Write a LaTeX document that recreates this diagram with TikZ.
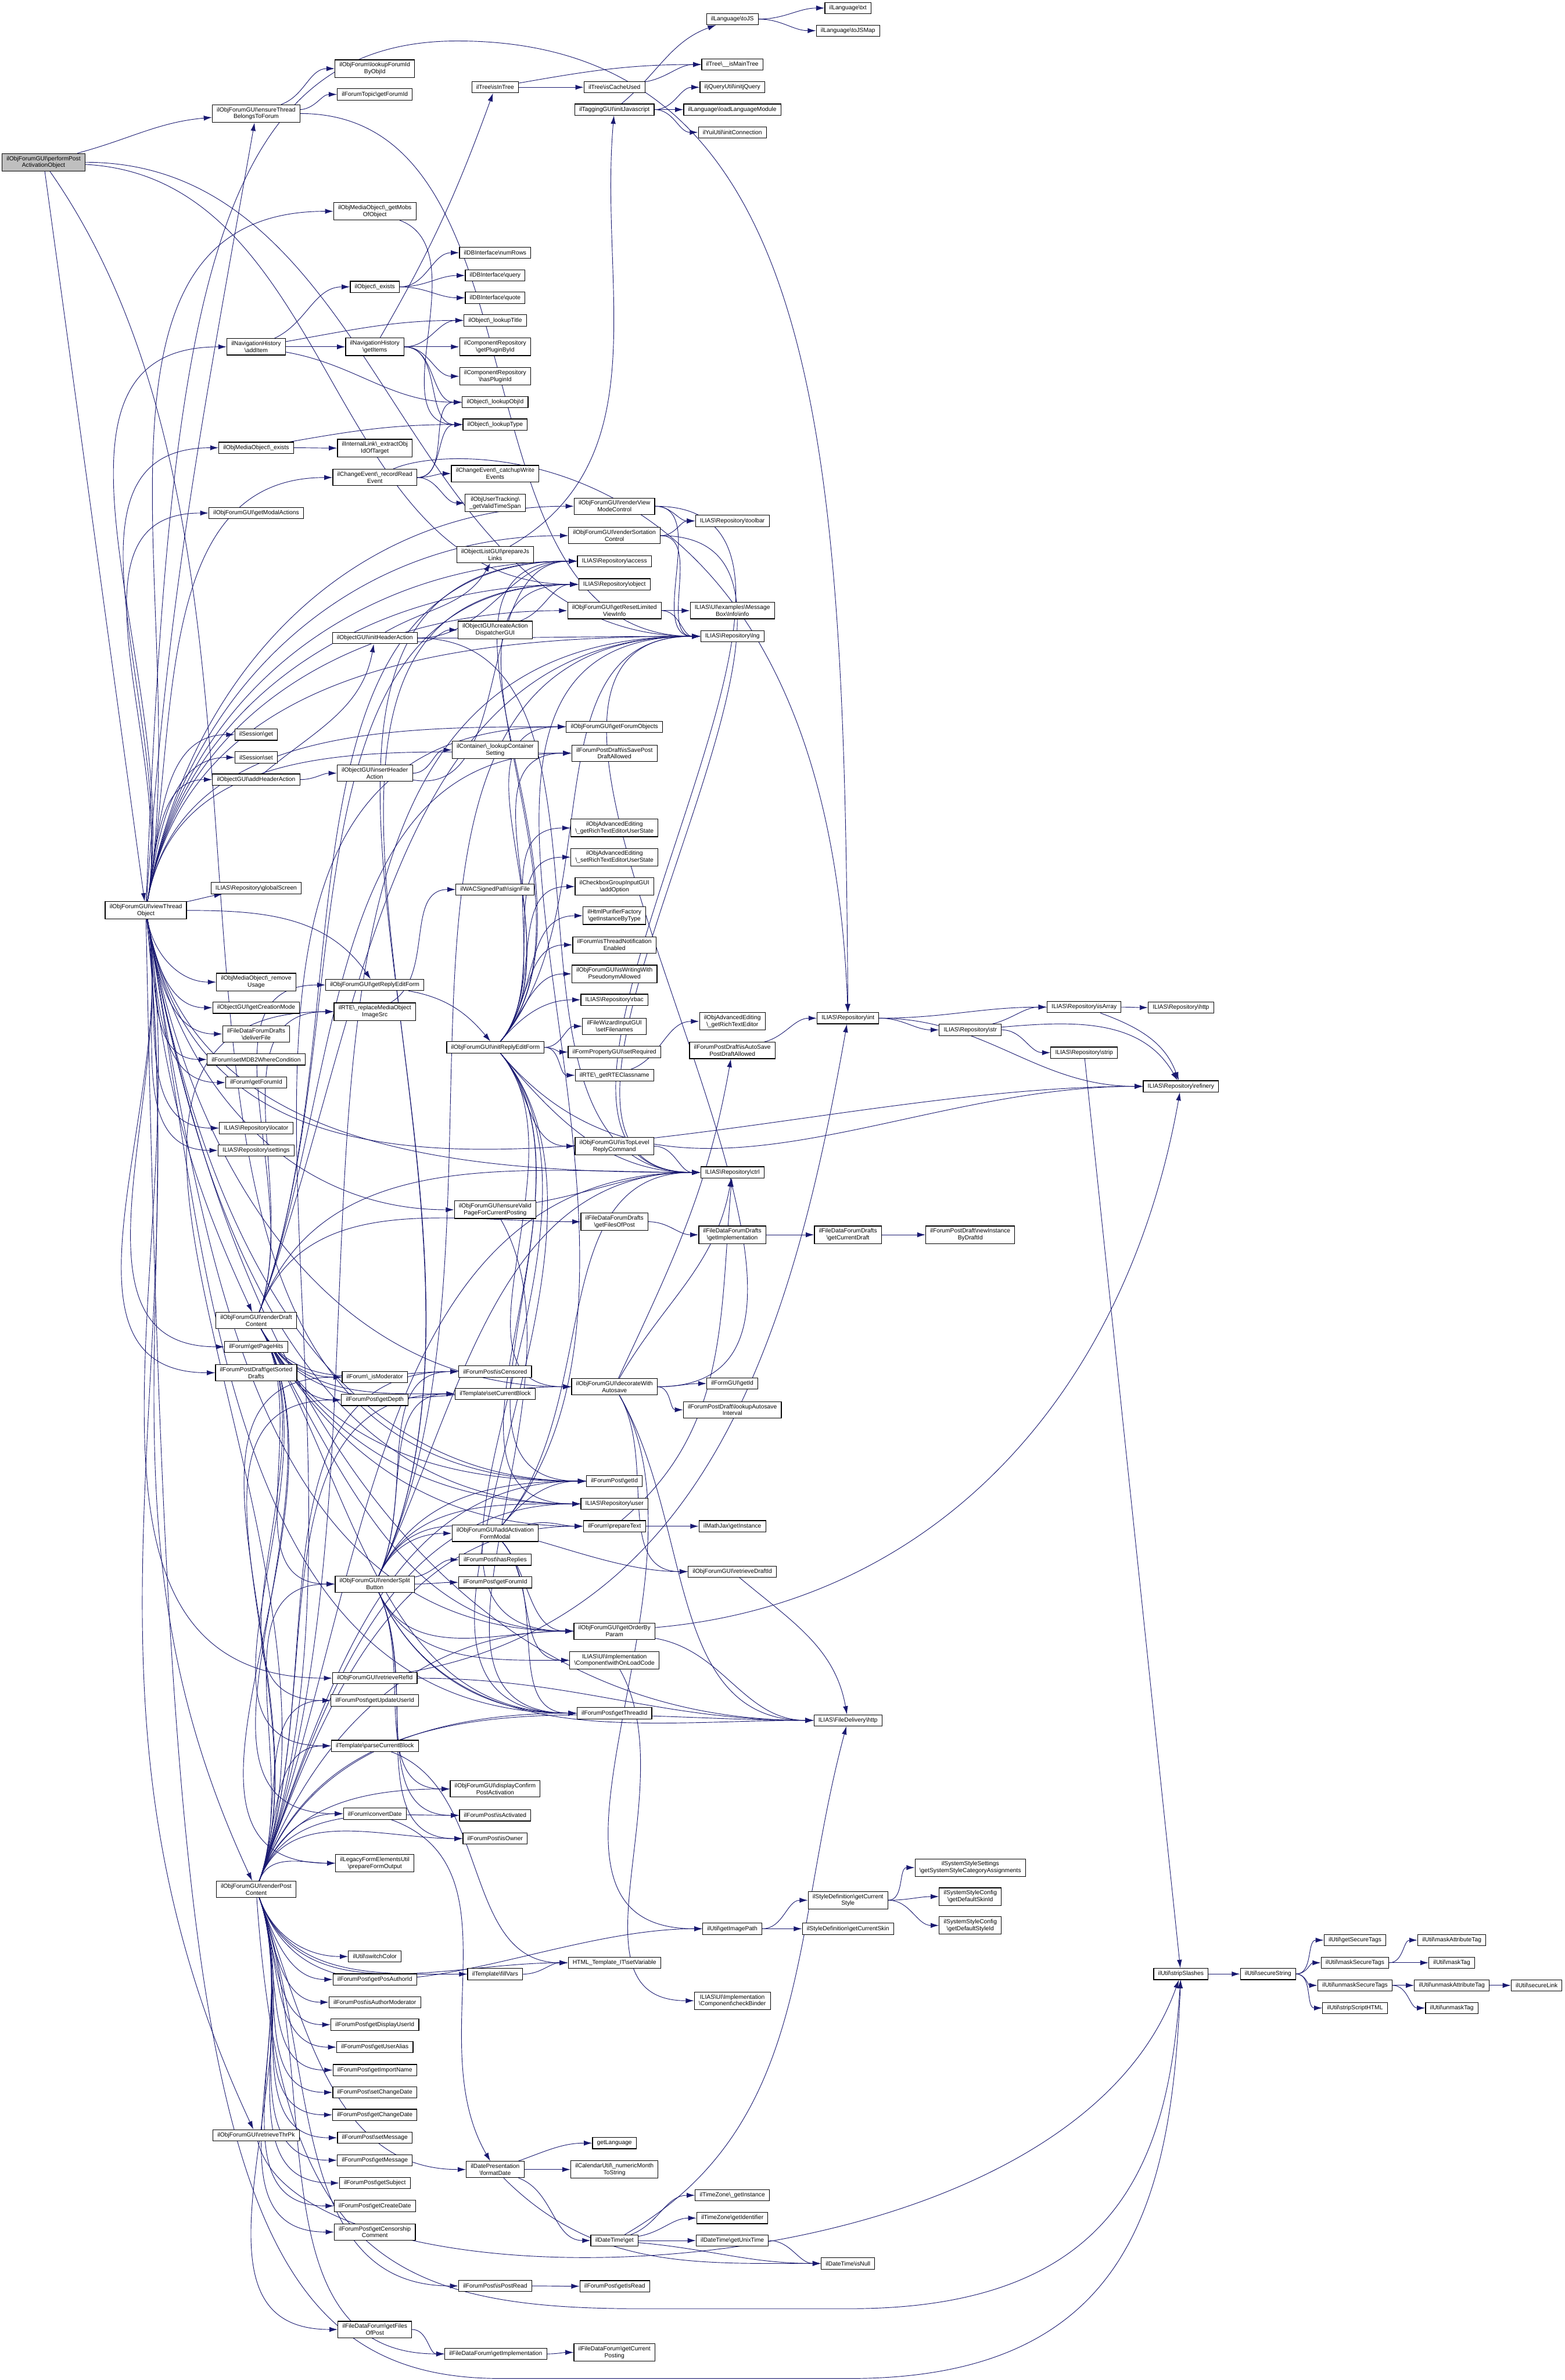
\documentclass[tikz,border=0pt]{standalone}
\usepackage{fontspec}
\setmainfont{Liberation Sans}
\usepackage{tikz}
\usetikzlibrary{arrows.meta,backgrounds}
\definecolor{edgeblue}{RGB}{25,25,112}
\newcommand{\bsl}{\textbackslash}
\tikzset{
  fn/.style={draw=black, fill=white, line width=0.25pt, align=center,
    font=\fontsize{2.24}{2.56}\selectfont, inner xsep=1.68pt, inner ysep=0.96pt,
    minimum height=1.48mm},
  fnroot/.style={fn, fill=black!25},
  call/.style={-{Latex[length=3.1pt,width=1.9pt]}, draw=edgeblue, line width=0.2pt,
    out=0, in=180}
}

\begin{document}
\begin{tikzpicture}[x=0.02cm, y=-0.02cm]
\useasboundingbox (0,0) rectangle (1031,1568);

\node[fnroot] (root) at (28.7,106.9) {ilObjForumGUI\bsl performPost\\ActivationObject};
\node[fn] (viewThread) at (96.1,599.8) {ilObjForumGUI\bsl viewThread\\Object};

\node[fn] (ensureThread) at (168.8,74.8) {ilObjForumGUI\bsl ensureThread\\BelongsToForum};
\node[fn] (addItem) at (168.8,228.5) {ilNavigationHistory\\\bsl addItem};
\node[fn] (mobExists) at (168.8,295) {ilObjMediaObject\bsl\_exists};
\node[fn] (modalActions) at (168.8,338) {ilObjForumGUI\bsl getModalActions};
\node[fn] (sessGet) at (168.8,484) {ilSession\bsl get};
\node[fn] (sessSet) at (168.8,499) {ilSession\bsl set};
\node[fn] (addHeader) at (168.8,513.6) {ilObjectGUI\bsl addHeaderAction};
\node[fn] (globalScreen) at (168.8,585.1) {ILIAS\bsl Repository\bsl globalScreen};
\node[fn] (removeUsage) at (168.8,647) {ilObjMediaObject\bsl\_remove\\Usage};
\node[fn] (creationMode) at (168.8,663.9) {ilObjectGUI\bsl getCreationMode};
\node[fn] (deliverFile) at (168.8,681.2) {ilFileDataForumDrafts\\\bsl deliverFile};
\node[fn] (setMDB2) at (168.8,698) {ilForum\bsl setMDB2WhereCondition};
\node[fn] (forumId) at (168.8,713.2) {ilForum\bsl getForumId};
\node[fn] (locator) at (168.8,743.2) {ILIAS\bsl Repository\bsl locator};
\node[fn] (settings) at (168.8,757.9) {ILIAS\bsl Repository\bsl settings};
\node[fn] (renderDraft) at (168.8,870) {ilObjForumGUI\bsl renderDraft\\Content};
\node[fn] (pageHits) at (168.8,887.3) {ilForum\bsl getPageHits};
\node[fn] (sortedDrafts) at (168.8,904.4) {ilForumPostDraft\bsl getSorted\\Drafts};
\node[fn] (renderPost) at (168.8,1244.7) {ilObjForumGUI\bsl renderPost\\Content};
\node[fn] (retrieveThrPk) at (168.8,1406.8) {ilObjForumGUI\bsl retrieveThrPk};

\node[fn] (lookupForumId) at (247,45.2) {ilObjForum\bsl lookupForumId\\ByObjId};
\node[fn] (topicForumId) at (247,62.2) {ilForumTopic\bsl getForumId};
\node[fn] (getMobs) at (247,139.2) {ilObjMediaObject\bsl\_getMobs\\OfObject};
\node[fn] (objExists) at (247,189) {ilObject\bsl\_exists};
\node[fn] (getItems) at (247,228.5) {ilNavigationHistory\\\bsl getItems};
\node[fn] (extractObjId) at (247,295.2) {ilInternalLink\bsl\_extractObj\\IdOfTarget};
\node[fn] (recordRead) at (247,314.6) {ilChangeEvent\bsl\_recordRead\\Event};
\node[fn] (initHeader) at (247,420.4) {ilObjectGUI\bsl initHeaderAction};
\node[fn] (insertHeader) at (247,509.4) {ilObjectGUI\bsl insertHeader\\Action};
\node[fn] (getReplyForm) at (247,648.9) {ilObjForumGUI\bsl getReplyEditForm};
\node[fn] (replaceMob) at (247,666.5) {ilRTE\bsl\_replaceMediaObject\\ImageSrc};
\node[fn] (isModerator) at (247,907.3) {ilForum\bsl\_isModerator};
\node[fn] (getDepth) at (247,922.3) {ilForumPost\bsl getDepth};
\node[fn] (splitButton) at (247,1043.6) {ilObjForumGUI\bsl renderSplit\\Button};
\node[fn] (retrieveRefId) at (247,1105.6) {ilObjForumGUI\bsl retrieveRefId};
\node[fn] (updateUserId) at (247,1120.3) {ilForumPost\bsl getUpdateUserId};
\node[fn] (parseBlock) at (247,1150.2) {ilTemplate\bsl parseCurrentBlock};
\node[fn] (convertDate) at (247,1194.9) {ilForum\bsl convertDate};
\node[fn] (prepareOutput) at (247,1227.5) {ilLegacyFormElementsUtil\\\bsl prepareFormOutput};
\node[fn] (switchColor) at (247,1289) {ilUtil\bsl switchColor};
\foreach \n/\t/\y in {posAuthorId/getPosAuthorId/1304.1, isAuthorMod/isAuthorModerator/1319.1,
    displayUserId/getDisplayUserId/1333.9, userAlias/getUserAlias/1348.7,
    importName/getImportName/1363.8, setChangeDate/setChangeDate/1378.5,
    getChangeDate/getChangeDate/1393.3, setMessage/setMessage/1408.4,
    getMessage/getMessage/1423.2, getSubject/getSubject/1438.2,
    getCreateDate/getCreateDate/1453.3}
  \node[fn] (\n) at (247,\y) {ilForumPost\bsl \t};
\node[fn] (censorComment) at (247,1470.5) {ilForumPost\bsl getCensorship\\Comment};
\node[fn] (forumFiles) at (247,1534.7) {ilFileDataForum\bsl getFiles\\OfPost};

\node[fn] (isInTree) at (326.3,57.5) {ilTree\bsl isInTree};
\node[fn] (numRows) at (326.3,166.5) {ilDBInterface\bsl numRows};
\node[fn] (dbQuery) at (326.3,181.5) {ilDBInterface\bsl query};
\node[fn] (dbQuote) at (326.3,196.2) {ilDBInterface\bsl quote};
\node[fn] (lookupTitle) at (326.3,211.1) {ilObject\bsl\_lookupTitle};
\node[fn] (getPluginById) at (326.3,228.5) {ilComponentRepository\\\bsl getPluginById};
\node[fn] (hasPluginId) at (326.3,247.9) {ilComponentRepository\\\bsl hasPluginId};
\node[fn] (lookupObjId) at (326.3,265) {ilObject\bsl\_lookupObjId};
\node[fn] (lookupType) at (326.3,279.7) {ilObject\bsl\_lookupType};
\node[fn] (catchupWrite) at (326.3,312) {ilChangeEvent\bsl\_catchupWrite\\Events};
\node[fn] (validTimeSpan) at (326.3,331.4) {ilObjUserTracking\bsl\\\_getValidTimeSpan};
\node[fn] (prepareJs) at (326.3,365.5) {ilObjectListGUI\bsl prepareJs\\Links};
\node[fn] (actionDispatcher) at (326.3,415) {ilObjectGUI\bsl createAction\\DispatcherGUI};
\node[fn] (containerSetting) at (326.3,494.1) {ilContainer\bsl\_lookupContainer\\Setting};
\node[fn] (signFile) at (326.3,586) {ilWACSignedPath\bsl signFile};
\node[fn] (initReplyForm) at (326.5,690) {ilObjForumGUI\bsl initReplyEditForm};
\node[fn] (ensureValidPage) at (326.3,797) {ilObjForumGUI\bsl ensureValid\\PageForCurrentPosting};
\node[fn] (isCensored) at (326.3,903.6) {ilForumPost\bsl isCensored};
\node[fn] (setBlock) at (326.3,918.3) {ilTemplate\bsl setCurrentBlock};
\node[fn] (activationModal) at (326.3,1010.2) {ilObjForumGUI\bsl addActivation\\FormModal};
\node[fn] (hasReplies) at (326.3,1027.6) {ilForumPost\bsl hasReplies};
\node[fn] (postForumId) at (326.3,1042.5) {ilForumPost\bsl getForumId};
\node[fn] (displayConfirm) at (326.3,1178.6) {ilObjForumGUI\bsl displayConfirm\\PostActivation};
\node[fn] (isActivated) at (326.3,1196) {ilForumPost\bsl isActivated};
\node[fn] (isOwner) at (326.3,1211.3) {ilForumPost\bsl isOwner};
\node[fn] (fillVars) at (326.3,1300.6) {ilTemplate\bsl fillVars};
\node[fn] (formatDate) at (326.3,1429.3) {ilDatePresentation\\\bsl formatDate};
\node[fn] (isPostRead) at (326.3,1506) {ilForumPost\bsl isPostRead};
\node[fn] (forumImpl) at (326.7,1550.8) {ilFileDataForum\bsl getImplementation};

\node[fn] (isCacheUsed) at (404.9,57.5) {ilTree\bsl isCacheUsed};
\node[fn] (initJs) at (404.9,72.2) {ilTaggingGUI\bsl initJavascript};
\node[fn] (viewModeCtrl) at (404.9,333.5) {ilObjForumGUI\bsl renderView\\ModeControl};
\node[fn] (sortationCtrl) at (404.9,352.9) {ilObjForumGUI\bsl renderSortation\\Control};
\node[fn] (access) at (404.9,369.7) {ILIAS\bsl Repository\bsl access};
\node[fn] (object) at (404.9,385) {ILIAS\bsl Repository\bsl object};
\node[fn] (resetInfo) at (404.9,402.3) {ilObjForumGUI\bsl getResetLimited\\ViewInfo};
\node[fn] (forumObjects) at (404.9,478.8) {ilObjForumGUI\bsl getForumObjects};
\node[fn] (isSaveDraft) at (404.9,496.2) {ilForumPostDraft\bsl isSavePost\\DraftAllowed};
\node[fn] (getRteState) at (404.9,545.5) {ilObjAdvancedEditing\\\bsl\_getRichTextEditorUserState};
\node[fn] (setRteState) at (404.9,564.7) {ilObjAdvancedEditing\\\bsl\_setRichTextEditorUserState};
\node[fn] (addOption) at (404.9,584.1) {ilCheckboxGroupInputGUI\\\bsl addOption};
\node[fn] (purifier) at (404.9,603.3) {ilHtmlPurifierFactory\\\bsl getInstanceByType};
\node[fn] (threadNotif) at (404.9,622.5) {ilForum\bsl isThreadNotification\\Enabled};
\node[fn] (pseudonym) at (404.9,641.6) {ilObjForumGUI\bsl isWritingWith\\PseudonymAllowed};
\node[fn] (rbac) at (404.9,658.7) {ILIAS\bsl Repository\bsl rbac};
\node[fn] (setFilenames) at (404.9,676.1) {ilFileWizardInputGUI\\\bsl setFilenames};
\node[fn] (setRequired) at (404.9,693.1) {ilFormPropertyGUI\bsl setRequired};
\node[fn] (rteClassname) at (404.9,708.4) {ilRTE\bsl\_getRTEClassname};
\node[fn] (topLevelReply) at (404.9,755.1) {ilObjForumGUI\bsl isTopLevel\\ReplyCommand};
\node[fn] (draftFiles) at (404.9,804.9) {ilFileDataForumDrafts\\\bsl getFilesOfPost};
\node[fn] (decorate) at (404.9,913.6) {ilObjForumGUI\bsl decorateWith\\Autosave};
\node[fn] (postGetId) at (404.9,975.8) {ilForumPost\bsl getId};
\node[fn] (user) at (404.9,990.8) {ILIAS\bsl Repository\bsl user};
\node[fn] (prepareText) at (404.9,1005.5) {ilForum\bsl prepareText};
\node[fn] (orderBy) at (404.9,1074.6) {ilObjForumGUI\bsl getOrderBy\\Param};
\node[fn] (onLoadCode) at (404.9,1093.8) {ILIAS\bsl UI\bsl Implementation\\\bsl Component\bsl withOnLoadCode};
\node[fn] (threadId) at (404.9,1128.7) {ilForumPost\bsl getThreadId};
\node[fn] (setVariable) at (404.9,1293.1) {HTML\_Template\_IT\bsl setVariable};
\node[fn] (getLanguage) at (404.9,1411.9) {getLanguage};
\node[fn] (monthToString) at (404.9,1429.3) {ilCalendarUtil\bsl\_numericMonth\\ToString};
\node[fn] (dateGet) at (404.9,1476.1) {ilDateTime\bsl get};
\node[fn] (getIsRead) at (405.1,1506.2) {ilForumPost\bsl getIsRead};
\node[fn] (currentPosting) at (404.9,1549.8) {ilFileDataForum\bsl getCurrent\\Posting};

\node[fn] (toJS) at (482.6,12.6) {ilLanguage\bsl toJS};
\node[fn] (isMainTree) at (482.6,42.5) {ilTree\bsl\_\_isMainTree};
\node[fn] (initjQuery) at (482.6,57.5) {iljQueryUtil\bsl initjQuery};
\node[fn] (loadLangModule) at (482.6,72.2) {ilLanguage\bsl loadLanguageModule};
\node[fn] (initConnection) at (482.6,87.2) {ilYuiUtil\bsl initConnection};
\node[fn] (toolbar) at (482.6,343.2) {ILIAS\bsl Repository\bsl toolbar};
\node[fn] (msgInfo) at (482.6,402.3) {ILIAS\bsl UI\bsl examples\bsl Message\\Box\bsl Info\bsl info};
\node[fn] (lng) at (482.6,419.2) {ILIAS\bsl Repository\bsl lng};
\node[fn] (getRte) at (482.6,672.9) {ilObjAdvancedEditing\\\bsl\_getRichTextEditor};
\node[fn] (isAutoSave) at (482.6,692.1) {ilForumPostDraft\bsl isAutoSave\\PostDraftAllowed};
\node[fn] (ctrl) at (482.6,772.4) {ILIAS\bsl Repository\bsl ctrl};
\node[fn] (draftImpl) at (482.6,813.5) {ilFileDataForumDrafts\\\bsl getImplementation};
\node[fn] (formGetId) at (482.6,911.5) {ilFormGUI\bsl getId};
\node[fn] (autosaveInterval) at (482.6,928.8) {ilForumPostDraft\bsl lookupAutosave\\Interval};
\node[fn] (mathJax) at (482.6,1005.5) {ilMathJax\bsl getInstance};
\node[fn] (retrieveDraftId) at (482.6,1035.4) {ilObjForumGUI\bsl retrieveDraftId};
\node[fn] (getImagePath) at (482.6,1270.7) {ilUtil\bsl getImagePath};
\node[fn] (checkBinder) at (482.6,1318.1) {ILIAS\bsl UI\bsl Implementation\\\bsl Component\bsl checkBinder};
\node[fn] (tzInstance) at (482.6,1446.3) {ilTimeZone\bsl\_getInstance};
\node[fn] (tzIdentifier) at (482.6,1461.3) {ilTimeZone\bsl getIdentifier};
\node[fn] (unixTime) at (482.6,1476.1) {ilDateTime\bsl getUnixTime};

\node[fn] (langTxt) at (558.8,5.3) {ilLanguage\bsl txt};
\node[fn] (toJSMap) at (558.8,20.2) {ilLanguage\bsl toJSMap};
\node[fn] (int) at (558.8,670.8) {ILIAS\bsl Repository\bsl int};
\node[fn] (currentDraft) at (558.8,813.5) {ilFileDataForumDrafts\\\bsl getCurrentDraft};
\node[fn] (fileHttp) at (558.8,1133.4) {ILIAS\bsl FileDelivery\bsl http};
\node[fn] (currentStyle) at (558.8,1251.9) {ilStyleDefinition\bsl getCurrent\\Style};
\node[fn] (currentSkin) at (558.8,1270.7) {ilStyleDefinition\bsl getCurrentSkin};
\node[fn] (isNull) at (558.8,1491.2) {ilDateTime\bsl isNull};

\node[fn] (str) at (639.4,678.5) {ILIAS\bsl Repository\bsl str};
\node[fn] (newInstance) at (639.4,813.5) {ilForumPostDraft\bsl newInstance\\ByDraftId};
\node[fn] (styleAssign) at (639.4,1230.4) {ilSystemStyleSettings\\\bsl getSystemStyleCategoryAssignments};
\node[fn] (defaultSkin) at (639.4,1249.5) {ilSystemStyleConfig\\\bsl getDefaultSkinId};
\node[fn] (defaultStyle) at (639.4,1268.5) {ilSystemStyleConfig\\\bsl getDefaultStyleId};
\node[fn] (isArray) at (714.4,663.5) {ILIAS\bsl Repository\bsl isArray};
\node[fn] (strip) at (714.4,693.5) {ILIAS\bsl Repository\bsl strip};
\node[fn] (repoHttp) at (778.2,663.8) {ILIAS\bsl Repository\bsl http};
\node[fn] (refinery) at (778.2,715.7) {ILIAS\bsl Repository\bsl refinery};
\node[fn] (stripSlashes) at (778.2,1300.5) {ilUtil\bsl stripSlashes};
\node[fn] (secureString) at (835.6,1300.5) {ilUtil\bsl secureString};
\node[fn] (secureTags) at (892.9,1278.2) {ilUtil\bsl getSecureTags};
\node[fn] (maskSecure) at (892.9,1293.1) {ilUtil\bsl maskSecureTags};
\node[fn] (unmaskSecure) at (892.9,1308) {ilUtil\bsl unmaskSecureTags};
\node[fn] (stripScript) at (892.9,1322.9) {ilUtil\bsl stripScriptHTML};
\node[fn] (maskAttr) at (956.7,1278.2) {ilUtil\bsl maskAttributeTag};
\node[fn] (maskTag) at (956.7,1293.1) {ilUtil\bsl maskTag};
\node[fn] (unmaskAttr) at (956.7,1308) {ilUtil\bsl unmaskAttributeTag};
\node[fn] (unmaskTag) at (956.7,1322.9) {ilUtil\bsl unmaskTag};
\node[fn] (secureLink) at (1012.6,1308) {ilUtil\bsl secureLink};

\begin{pgfonlayer}{background}
\draw[call] (root) to[out=15,in=185] (ensureThread);
\draw[call] (root) -- (viewThread);
\draw[call] (root) to (lng);
\draw[call] (root) to[out=-3] (object);
\draw[call] (root) to[out=-55] (postGetId);

\draw[call] (ensureThread) to[out=20] (lookupForumId);
\draw[call] (ensureThread) to[out=5] (topicForumId);
\draw[call] (ensureThread) to (lng);

\foreach \t in {getMobs,addItem,mobExists,modalActions,recordRead,sessGet,sessSet,addHeader,
    lng,access,object,forumObjects,viewModeCtrl,sortationCtrl,resetInfo,isSaveDraft}
  \draw[call] (viewThread) to[out=80] (\t);
\draw[call] (viewThread) to[out=86,in=-100] (ensureThread);
\draw[call] (viewThread) to[out=12,in=190] (globalScreen);
\draw[call] (viewThread) to[out=0,in=125] (getReplyForm);
\draw[call] (viewThread) .. controls (112,200) and (140,28) .. (300,27)
  .. controls (545,26) and (556,300) .. (int);
\foreach \t in {removeUsage,creationMode,deliverFile,setMDB2,forumId,locator,settings,
    pageHits,sortedDrafts,ensureValidPage,retrieveRefId,ctrl,user,orderBy,decorate,
    threadId,postGetId,fileHttp,refinery}
  \draw[call] (viewThread) to[out=-80] (\t);
\foreach \t in {renderDraft,renderPost,retrieveThrPk}
  \draw[call] (viewThread) to[out=-84,in=115] (\t);
\draw[call] (viewThread) .. controls (112,1380) and (140,1567) .. (330,1567)
  -- (560,1567) .. controls (745,1567) and (772,1450) .. (stripSlashes);

\draw[call] (addItem) to[out=25] (objExists);
\draw[call] (addItem) to (getItems);
\draw[call] (addItem) to[out=10] (lookupTitle);
\draw[call] (addItem) to[out=-10] (lookupObjId);
\draw[call] (getItems) to[out=60,in=-110] (isInTree);
\foreach \t in {lookupTitle,getPluginById,hasPluginId,lookupObjId,lookupType}
  \draw[call] (getItems) to (\t);
\foreach \t in {numRows,dbQuery,dbQuote}
  \draw[call] (objExists) to (\t);
\draw[call] (mobExists) to (extractObjId);
\draw[call] (mobExists) to[out=10] (lookupType);
\draw[call] (getMobs) to[out=-20] (lookupType);
\foreach \t in {catchupWrite,validTimeSpan,lookupObjId,lookupType}
  \draw[call] (recordRead) to (\t);
\draw[call] (recordRead) .. controls (300,290) and (545,285) .. (int);

\draw[call] (isInTree) to (isCacheUsed);
\draw[call] (isInTree) to[out=10] (isMainTree);
\draw[call] (isCacheUsed) to[out=10] (isMainTree);
\draw[call] (prepareJs) to[out=30,in=-95] (initJs);
\foreach \t in {initjQuery,loadLangModule,initConnection}
  \draw[call] (initJs) to (\t);
\draw[call] (initJs) to[out=40,in=200] (toJS);
\draw[call] (toJS) to (langTxt);
\draw[call] (toJS) to (toJSMap);

\draw[call] (addHeader) to[out=40,in=-100] (initHeader);
\draw[call] (addHeader) to (insertHeader);
\draw[call] (initHeader) to[out=-5] (actionDispatcher);
\draw[call] (initHeader) to[out=30,in=-120] (prepareJs);
\foreach \t in {access,lng,ctrl}
  \draw[call] (initHeader) to (\t);
\draw[call] (actionDispatcher) to[out=20] (object);
\draw[call] (insertHeader) to (containerSetting);
\draw[call] (insertHeader) to[out=-10] (access);
\draw[call] (replaceMob) to[out=30] (signFile);

\draw[call] (getReplyForm) to[out=-10,in=130] (initReplyForm);
\foreach \t in {getRteState,setRteState,addOption,purifier,threadNotif,pseudonym,rbac,
    access,object,forumObjects,isSaveDraft,lng}
  \draw[call] (initReplyForm) to[out=50] (\t);
\foreach \t in {setFilenames,setRequired,rteClassname}
  \draw[call] (initReplyForm) to (\t);
\foreach \t in {topLevelReply,ctrl,user,postGetId,decorate,orderBy,threadId,refinery}
  \draw[call] (initReplyForm) to[out=-50] (\t);

\foreach \t in {toolbar,lng,ctrl} {
  \draw[call] (viewModeCtrl) to (\t);
  \draw[call] (sortationCtrl) to (\t);
}
\draw[call] (resetInfo) to (msgInfo);
\draw[call] (resetInfo) to (lng);
\draw[call] (rteClassname) to[out=20] (getRte);
\draw[call] (isAutoSave) to[out=15] (int);
\draw[call] (topLevelReply) to (ctrl);

\draw[call] (int) to (isArray);
\draw[call] (int) to (str);
\draw[call] (int) to (refinery);
\draw[call] (str) to[out=15] (isArray);
\draw[call] (str) to (strip);
\draw[call] (str) to[out=5,in=120] (refinery);
\draw[call] (isArray) to (repoHttp);
\draw[call] (isArray) to[out=-20,in=110] (refinery);
\draw[call] (strip) -- (stripSlashes);

\draw[call] (draftFiles) to (draftImpl);
\draw[call] (draftImpl) to (currentDraft);
\draw[call] (currentDraft) to (newInstance);

\foreach \t in {getReplyForm,replaceMob,access,object,lng,isSaveDraft,ctrl,draftFiles}
  \draw[call] (renderDraft) to[out=70] (\t);
\foreach \t in {isModerator,getDepth,isCensored,setBlock,postGetId,user,prepareText,splitButton,
    updateUserId,parseBlock,convertDate,prepareOutput,decorate,orderBy,threadId}
  \draw[call] (renderDraft) to[out=-60] (\t);

\foreach \t in {formGetId,autosaveInterval,lng}
  \draw[call] (decorate) to (\t);
\draw[call] (decorate) to[out=60,in=-100] (ctrl);
\draw[call] (decorate) to[out=65,in=-100] (isAutoSave);
\foreach \t in {retrieveDraftId,getImagePath,fileHttp}
  \draw[call] (decorate) to[out=-60] (\t);

\foreach \t in {activationModal,isCensored,setBlock,postGetId,user,ctrl,lng,access,object,retrieveDraftId}
  \draw[call] (splitButton) to[out=65] (\t);
\draw[call] (splitButton) to[out=10] (hasReplies);
\draw[call] (splitButton) to (postForumId);
\foreach \t in {orderBy,onLoadCode,threadId,displayConfirm,isActivated,isOwner,fileHttp}
  \draw[call] (splitButton) to[out=-65] (\t);

\draw[call] (activationModal) to[out=15] (prepareText);
\foreach \t in {postGetId,ctrl,lng}
  \draw[call] (activationModal) to[out=50] (\t);
\foreach \t in {orderBy,onLoadCode,threadId}
  \draw[call] (activationModal) to[out=-50] (\t);

\draw[call] (prepareText) to (mathJax);
\draw[call] (prepareText) to[out=40,in=-95] (ctrl);
\draw[call] (retrieveDraftId) to[out=-40,in=100] (fileHttp);
\draw[call] (orderBy) to[out=-10] (fileHttp);
\draw[call] (orderBy) to[out=5,in=-100] (refinery);
\draw[call] (onLoadCode) to[out=-60] (checkBinder);
\draw[call] (retrieveRefId) to[out=10,in=-100] (int);
\draw[call] (retrieveRefId) to (fileHttp);
\draw[call] (ensureValidPage) to[out=10] (ctrl);
\draw[call] (ensureValidPage) to[out=-60] (threadId);

\foreach \t in {replaceMob,isModerator,getDepth,isCensored,setBlock,postGetId,user,prepareText,
    splitButton,orderBy,threadId,updateUserId,parseBlock,convertDate,prepareOutput,
    displayConfirm,isActivated,isOwner,lng,ctrl,forumObjects,fileHttp}
  \draw[call] (renderPost) to[out=70] (\t);
\foreach \t in {switchColor,posAuthorId,isAuthorMod,displayUserId,userAlias,importName,
    setChangeDate,getChangeDate,setMessage,getMessage,getSubject,getCreateDate,
    censorComment,forumFiles,forumImpl,isPostRead,formatDate,fillVars,setVariable,getImagePath}
  \draw[call] (renderPost) to[out=-70] (\t);
\draw[call] (renderPost) .. controls (185,1480) and (250,1521) .. (420,1521)
  -- (560,1521) .. controls (740,1521) and (770,1420) .. (stripSlashes);
\draw[call] (retrieveThrPk) .. controls (200,1530) and (700,1520) .. (stripSlashes);

\draw[call] (convertDate) to[out=-20,in=120] (formatDate);
\draw[call] (parseBlock) to[out=-20] (setVariable);
\draw[call] (fillVars) to (setVariable);
\draw[call] (formatDate) to[out=20] (getLanguage);
\draw[call] (formatDate) to (monthToString);
\draw[call] (formatDate) to[out=-20] (dateGet);
\draw[call] (formatDate) to[out=-45] (isNull);
\draw[call] (dateGet) to[out=20] (tzInstance);
\draw[call] (dateGet) to[out=10] (tzIdentifier);
\draw[call] (dateGet) to (unixTime);
\draw[call] (dateGet) to[out=-5] (isNull);
\draw[call] (dateGet) to[out=30,in=-105] (fileHttp);
\draw[call] (unixTime) to (isNull);
\draw[call] (getImagePath) to (currentStyle);
\draw[call] (getImagePath) to (currentSkin);
\foreach \t in {styleAssign,defaultSkin,defaultStyle}
  \draw[call] (currentStyle) to (\t);
\draw[call] (isPostRead) to (getIsRead);
\draw[call] (forumFiles) to (forumImpl);
\draw[call] (forumImpl) to (currentPosting);

\draw[call] (stripSlashes) to (secureString);
\foreach \t in {secureTags,maskSecure,unmaskSecure,stripScript}
  \draw[call] (secureString) to (\t);
\draw[call] (maskSecure) to (maskAttr);
\draw[call] (maskSecure) to (maskTag);
\draw[call] (unmaskSecure) to (unmaskAttr);
\draw[call] (unmaskSecure) to (unmaskTag);
\draw[call] (unmaskAttr) to (secureLink);
\end{pgfonlayer}
\end{tikzpicture}
\end{document}
